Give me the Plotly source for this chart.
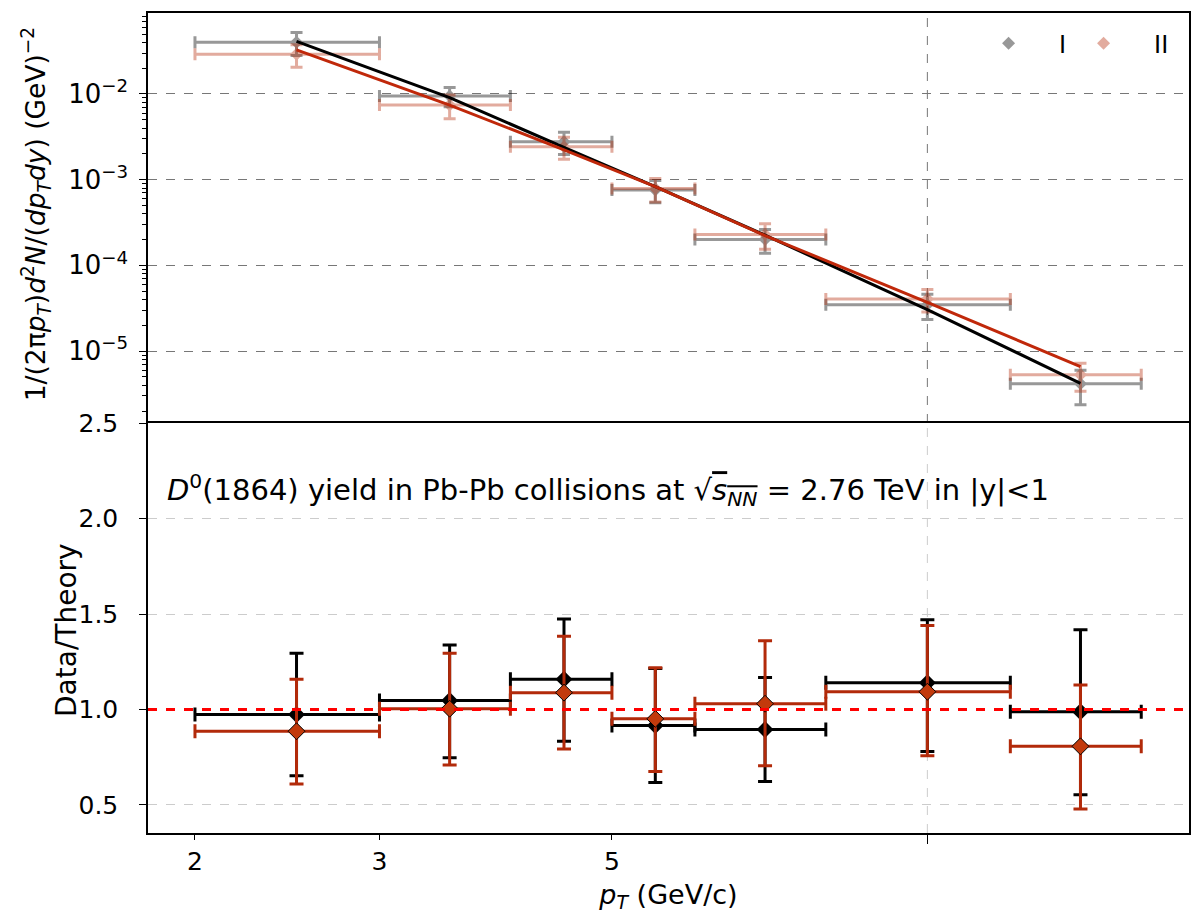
import plotly.graph_objects as go

# ---- data ----
pt_center = [2.5, 3.5, 4.5, 5.5, 7.0, 10.0, 14.0]
pt_halfwidth = [0.5, 0.5, 0.5, 0.5, 1.0, 2.0, 2.0]

yield_I = [0.0401, 0.00948, 0.00277, 7.59e-4, 2.01e-4, 3.48e-5, 4.16e-6]
yield_I_err = [0.012, 0.0024, 0.0008, 2.2e-4, 6.2e-5, 1.14e-5, 1.8e-6]
yield_II = [0.0290, 0.00744, 0.00243, 7.9e-4, 2.30e-4, 4.05e-5, 5.3e-6]
yield_II_err = [0.0085, 0.0023, 0.0007, 2.4e-4, 7.6e-5, 1.2e-5, 1.9e-6]

theory_I = [0.0412, 0.00905, 0.00239, 8.29e-4, 2.25e-4, 3.05e-5, 4.21e-6]
theory_II = [0.0327, 0.00741, 0.00223, 8.31e-4, 2.23e-4, 3.70e-5, 6.57e-6]

ratio_I = [0.974, 1.047, 1.158, 0.916, 0.895, 1.140, 0.988]
ratio_I_up = [0.321, 0.291, 0.316, 0.299, 0.272, 0.330, 0.430]
ratio_I_dn = [0.321, 0.300, 0.325, 0.299, 0.272, 0.360, 0.435]
ratio_II = [0.886, 1.004, 1.088, 0.951, 1.030, 1.093, 0.807]
ratio_II_up = [0.272, 0.291, 0.295, 0.268, 0.330, 0.347, 0.321]
ratio_II_dn = [0.276, 0.295, 0.295, 0.276, 0.325, 0.335, 0.328]

series_names = ["I", "II"]
x_ticks = [2, 3, 5, 10]
x_ticktext = ["2", "3", "5", ""]
y_ticks = [1e-5, 1e-4, 1e-3, 1e-2]
y_ticktext = ["10<sup>\u22125</sup>", "10<sup>\u22124</sup>", "10<sup>\u22123</sup>", "10<sup>\u22122</sup>"]
r_ticks = [0.5, 1.0, 1.5, 2.0, 2.5]
r_ticktext = ["0.5", "1.0", "1.5", "2.0", "2.5"]

BLACK = "#000000"
RED = "#b8300f"
RED_LINE = "#c0280a"
FONT = "DejaVu Sans"
PAD = "\u00a0\u00a0\u00a0\u00a0"

fig = go.Figure()

# upper panel data
fig.add_trace(go.Scatter(
    x=pt_center, y=yield_I, mode="markers", name=PAD + series_names[0], opacity=0.4,
    marker=dict(symbol="diamond", size=10, color=BLACK),
    error_x=dict(type="data", array=pt_halfwidth, color=BLACK, thickness=3, width=6),
    error_y=dict(type="data", array=yield_I_err, color=BLACK, thickness=3, width=6),
    xaxis="x", yaxis="y"))
fig.add_trace(go.Scatter(
    x=pt_center, y=yield_II, mode="markers", name=PAD + series_names[1], opacity=0.4,
    marker=dict(symbol="diamond", size=10, color=RED),
    error_x=dict(type="data", array=pt_halfwidth, color=RED, thickness=3, width=6),
    error_y=dict(type="data", array=yield_II_err, color=RED, thickness=3, width=6),
    xaxis="x", yaxis="y"))
fig.add_trace(go.Scatter(
    x=pt_center, y=theory_I, mode="lines", showlegend=False,
    line=dict(color=BLACK, width=3), xaxis="x", yaxis="y"))
fig.add_trace(go.Scatter(
    x=pt_center, y=theory_II, mode="lines", showlegend=False,
    line=dict(color=RED_LINE, width=3), xaxis="x", yaxis="y"))

# lower panel ratios
fig.add_trace(go.Scatter(
    x=pt_center, y=ratio_I, mode="markers", showlegend=False,
    marker=dict(symbol="diamond", size=13, color=BLACK),
    error_x=dict(type="data", array=pt_halfwidth, color=BLACK, thickness=3, width=7),
    error_y=dict(type="data", array=ratio_I_up, arrayminus=ratio_I_dn, color=BLACK, thickness=3, width=7),
    xaxis="x2", yaxis="y2"))
fig.add_trace(go.Scatter(
    x=pt_center, y=ratio_II, mode="markers", showlegend=False,
    marker=dict(symbol="diamond", size=13, color="#c23a0c", line=dict(color=BLACK, width=1)),
    error_x=dict(type="data", array=pt_halfwidth, color="#b22a0a", thickness=3, width=7),
    error_y=dict(type="data", array=ratio_II_up, arrayminus=ratio_II_dn, color="#b22a0a", thickness=3, width=7),
    xaxis="x2", yaxis="y2"))

# reference lines
shapes = [
    dict(type="line", xref="x2 domain", x0=0, x1=1, yref="y2", y0=1, y1=1,
         line=dict(color="#ff0000", width=3, dash="dash"), layer="above"),
    dict(type="line", xref="x", x0=10, x1=10, yref="y domain", y0=0, y1=1,
         line=dict(color="#777777", width=1, dash="dash"), layer="below"),
    dict(type="line", xref="x2", x0=10, x1=10, yref="y2 domain", y0=0, y1=1,
         line=dict(color="#cccccc", width=1, dash="dash"), layer="below"),
]

xrange_log = [0.2562, 1.2497]

fig.update_layout(
    width=1204, height=923,
    margin=dict(l=140, r=23, t=5, b=98, autoexpand=False),
    paper_bgcolor="white", plot_bgcolor="white",
    font=dict(family=FONT, size=22, color="black"),
    shapes=shapes,
    showlegend=True,
    legend=dict(orientation="h", x=0.99, xanchor="right", y=0.99, yanchor="top",
                font=dict(size=24), bgcolor="rgba(0,0,0,0)",
                entrywidth=50, entrywidthmode="pixels"),
    xaxis=dict(type="log", range=xrange_log, domain=[0, 1], anchor="y", side="top",
               showticklabels=False, ticks="", showgrid=False, zeroline=False,
               showline=True, mirror=False, linecolor="black", linewidth=1.5,
               matches="x2", automargin=False),
    yaxis=dict(type="log", range=[-5.839, -1.055], domain=[0.5, 1], anchor="x",
               tickvals=y_ticks, ticktext=y_ticktext, ticks="outside", ticklen=7,
               tickwidth=1, tickcolor="black", tickfont=dict(size=26), ticklabelstandoff=6,
               showgrid=True, gridcolor="#777777", griddash="dash", gridwidth=1,
               zeroline=False, showline=True, mirror=True, linecolor="black", linewidth=1.5,
               automargin=False,
               minor=dict(tickvals=[m * 10 ** e for e in range(-6, -1) for m in range(2, 10)],
                          ticks="outside", ticklen=4, tickcolor="black", showgrid=False)),
    xaxis2=dict(type="log", range=xrange_log, domain=[0, 1], anchor="y2",
                tickvals=x_ticks, ticktext=x_ticktext, ticks="outside", ticklen=5,
                tickcolor="black", tickfont=dict(size=25), showgrid=False, zeroline=False,
                showline=True, mirror=True, linecolor="black", linewidth=1.5, automargin=False,
                minor=dict(tickvals=[10], ticks="outside", ticklen=9, tickcolor="black", showgrid=False),
                title=dict(text="<i>p</i><sub><i>T</i></sub> (GeV/c)", font=dict(size=27), standoff=10)),
    yaxis2=dict(range=[0.353, 2.5005], domain=[0, 0.5], anchor="x2",
                tickvals=r_ticks, ticktext=r_ticktext, ticks="outside", ticklen=7,
                tickcolor="black", tickfont=dict(size=25), ticklabelstandoff=16,
                showgrid=True, gridcolor="#cccccc", griddash="dash", gridwidth=1,
                zeroline=False, showline=True, mirror=True, linecolor="black", linewidth=1.5,
                automargin=False),
    annotations=[
        dict(text="<i>D</i><sup>0</sup>(1864) yield in Pb-Pb collisions at "
                  "\u221a<span style='text-decoration:overline'><i>s</i><sub><i>NN</i></sub></span>"
                  " = 2.76 TeV in |y|&lt;1",
             xref="x2 domain", x=0.016, xanchor="left", yref="y2", y=2.15, yanchor="middle",
             showarrow=False, font=dict(size=29)),
        dict(text="1/(2\u03c0<i>p</i><sub><i>T</i></sub>)<i>d</i><sup>2</sup><i>N</i>/(<i>dp</i><sub><i>T</i></sub><i>dy</i>) (GeV)<sup>\u22122</sup>",
             xref="paper", x=-0.108, xanchor="center", yref="paper", y=0.754, yanchor="middle",
             textangle=-90, showarrow=False, font=dict(size=26.5)),
        dict(text="Data/Theory", xref="paper", x=-0.0778, xanchor="center",
             yref="paper", y=0.2476, yanchor="middle", textangle=-90, showarrow=False,
             font=dict(size=28)),
    ],
)

fig.write_html("out.html")
